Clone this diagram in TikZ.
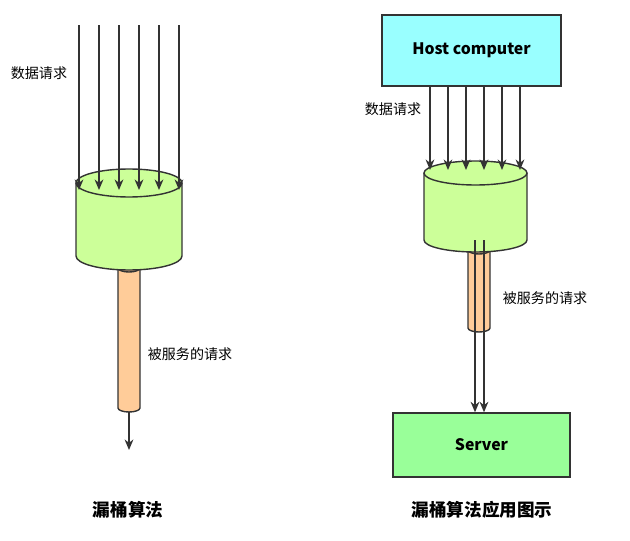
\documentclass[tikz,border=0pt]{standalone}
\usepackage{fontspec}
\setmainfont{Noto Sans CJK SC}
\usetikzlibrary{calc,positioning,arrows.meta}
\definecolor{bucket}{HTML}{CCFF99}
\definecolor{pipe}{HTML}{FFCC99}
\definecolor{host}{HTML}{99FFFF}
\definecolor{server}{HTML}{99FF99}
\tikzset{
  line/.style={draw=black!80, line width=0.8pt},
  flow/.style={line, -{Stealth[length=6pt,width=5pt]}},
  lbl/.style={font=\fontsize{8}{10}\selectfont},
  title/.style={font=\bfseries\fontsize{10}{12}\selectfont},
  box/.style={line, font=\bfseries\fontsize{9}{11}\selectfont},
}
% cylinder: left x, right x, top y, bottom y, ry, colour
\newcommand{\cyl}[6]{
  \fill[#6] (#1,#3) -- (#1,#4) arc[start angle=180,end angle=0,x radius={(#2-#1)/2},y radius=#5]
    -- (#2,#3) -- cycle;
  \draw[line] (#1,#3) -- (#1,#4) arc[start angle=180,end angle=0,x radius={(#2-#1)/2},y radius=#5] -- (#2,#3);
  \draw[line, fill=#6] ({(#1+#2)/2},#3) ellipse[x radius={(#2-#1)/2},y radius=#5];
}
\begin{document}
\begin{tikzpicture}[x=0.02cm,y=-0.02cm]
  \useasboundingbox (0,0) rectangle (630,541);

  % left: leaky bucket
  \cyl{118}{140}{268}{408}{4}{pipe}
  \cyl{76}{182}{183}{256}{14}{bucket}
  \coordinate (out) at (129,412);
  \coordinate (drop) at (129,450);
  \draw[flow] (out) -- (drop);
  \foreach \x [count=\i] in {79,99,119,139,159,179} {
    \coordinate (in\i) at (\x,25);
    \coordinate (hit\i) at (\x,190);
    \draw[flow] (in\i) -- (hit\i);
  }
  \node[lbl] (req) at (39,73) {数据请求};
  \node[lbl] (served) at (190,354) {被服务的请求};
  \node[title] (name) at (128,510) {漏桶算法};

  % right: application
  \node[box, fill=host, minimum width=179*0.02cm, minimum height=71*0.02cm] (hostpc) at (471.5,50.5) {Host computer};
  \cyl{468}{490}{250}{328}{4}{pipe}
  \cyl{424}{527}{173}{240}{12}{bucket}
  \foreach \x [count=\i] in {430,448,466,484,502,520} {
    \coordinate (hin\i) at (\x,86);
    \coordinate (hhit\i) at (\x,170);
    \draw[flow] (hin\i) -- (hhit\i);
  }
  \node[box, fill=server, minimum width=177*0.02cm, minimum height=64*0.02cm] (srv) at (481.5,445) {Server};
  \coordinate (s1) at (475,240);
  \coordinate (s2) at (484,240);
  \draw[flow] (s1) -- (s1 |- srv.north);
  \draw[flow] (s2) -- (s2 |- srv.north);
  \node[lbl] (hreq) at (393,109) {数据请求};
  \node[lbl] (hserved) at (545,298) {被服务的请求};
  \node[title] (hname) at (482,510) {漏桶算法应用图示};
\end{tikzpicture}
\end{document}
